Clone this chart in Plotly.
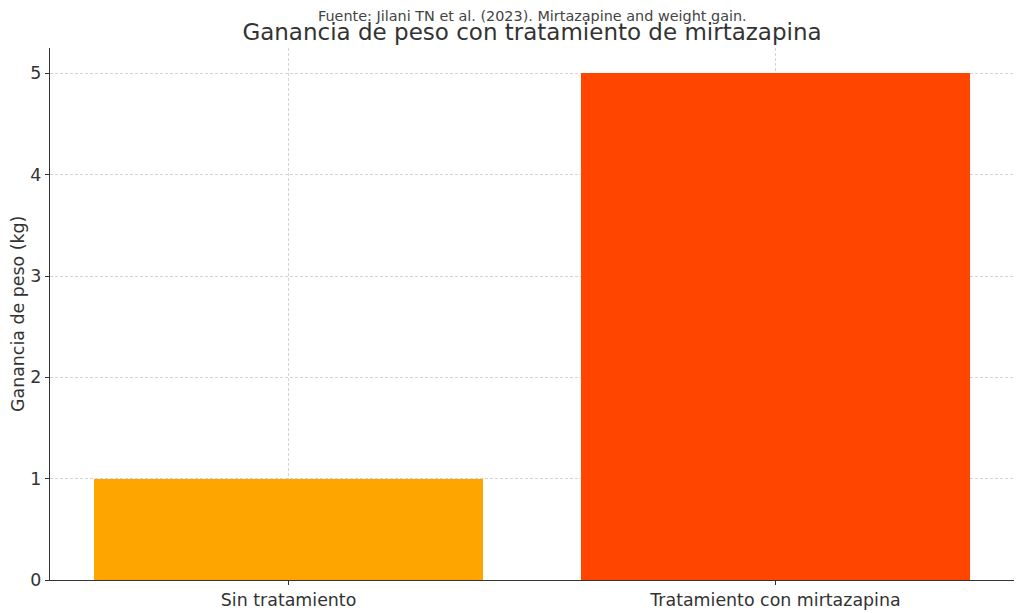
import plotly.graph_objects as go

categories = ["Sin tratamiento", "Tratamiento con mirtazapina"]
values = [1, 5]
colors = ["#FFA500", "#FF4500"]
y_ticks = [0, 1, 2, 3, 4, 5]

title_text = "Ganancia de peso con tratamiento de mirtazapina"
source_text = "Fuente: Jilani TN et al. (2023). Mirtazapine and weight gain."
ylabel = "Ganancia de peso (kg)"

fig = go.Figure()
fig.add_trace(go.Bar(
    x=list(range(len(categories))), y=values, width=0.8,
    marker=dict(color=colors, line=dict(width=0)),
))

font_family = "DejaVu Sans"
fig.update_layout(
    width=1024, height=613,
    margin=dict(l=50, r=10, t=48, b=33, autoexpand=False),
    plot_bgcolor="white", paper_bgcolor="white",
    font=dict(family=font_family, color="#333333", size=17.4),
    showlegend=False,
    bargap=0,
    title=dict(text=title_text, x=(50 + 1014) / 2 / 1024, xanchor="center",
               y=1 - 32 / 613, yanchor="middle",
               font=dict(size=23, color="#333333", family=font_family)),
    annotations=[
        dict(text=source_text, xref="paper", yref="paper",
             x=0.5, y=1 + (48 - 16) / 532, xanchor="center", yanchor="middle",
             showarrow=False, font=dict(size=14.4, color="#444444", family=font_family)),
        dict(text=ylabel, xref="paper", yref="paper",
             x=(18 - 50) / 964, y=0.5, xanchor="center", yanchor="middle",
             textangle=-90, showarrow=False,
             font=dict(size=17.4, color="#333333", family=font_family)),
    ],
)
fig.update_xaxes(
    range=[-0.49, 1.49], tickvals=list(range(len(categories))), ticktext=categories,
    showgrid=True, gridcolor="#d4d4d4", griddash="3px,2px", gridwidth=1,
    showline=True, linecolor="#333333", linewidth=1.2,
    ticks="outside", ticklen=4, tickcolor="#333333", zeroline=False,
    layer="above traces", tickfont=dict(size=17.4), automargin=False,
)
fig.update_yaxes(
    range=[0, 5.25], tickvals=y_ticks,
    showgrid=True, gridcolor="#d4d4d4", griddash="3px,2px", gridwidth=1,
    showline=True, linecolor="#333333", linewidth=1.2,
    ticks="outside", ticklen=4, tickcolor="#333333", zeroline=False,
    layer="above traces", tickfont=dict(size=17.4), automargin=False,
)
fig.write_html("out.html", config={"displayModeBar": False},
               post_script="document.body.style.margin='0';document.body.style.overflow='hidden';")
